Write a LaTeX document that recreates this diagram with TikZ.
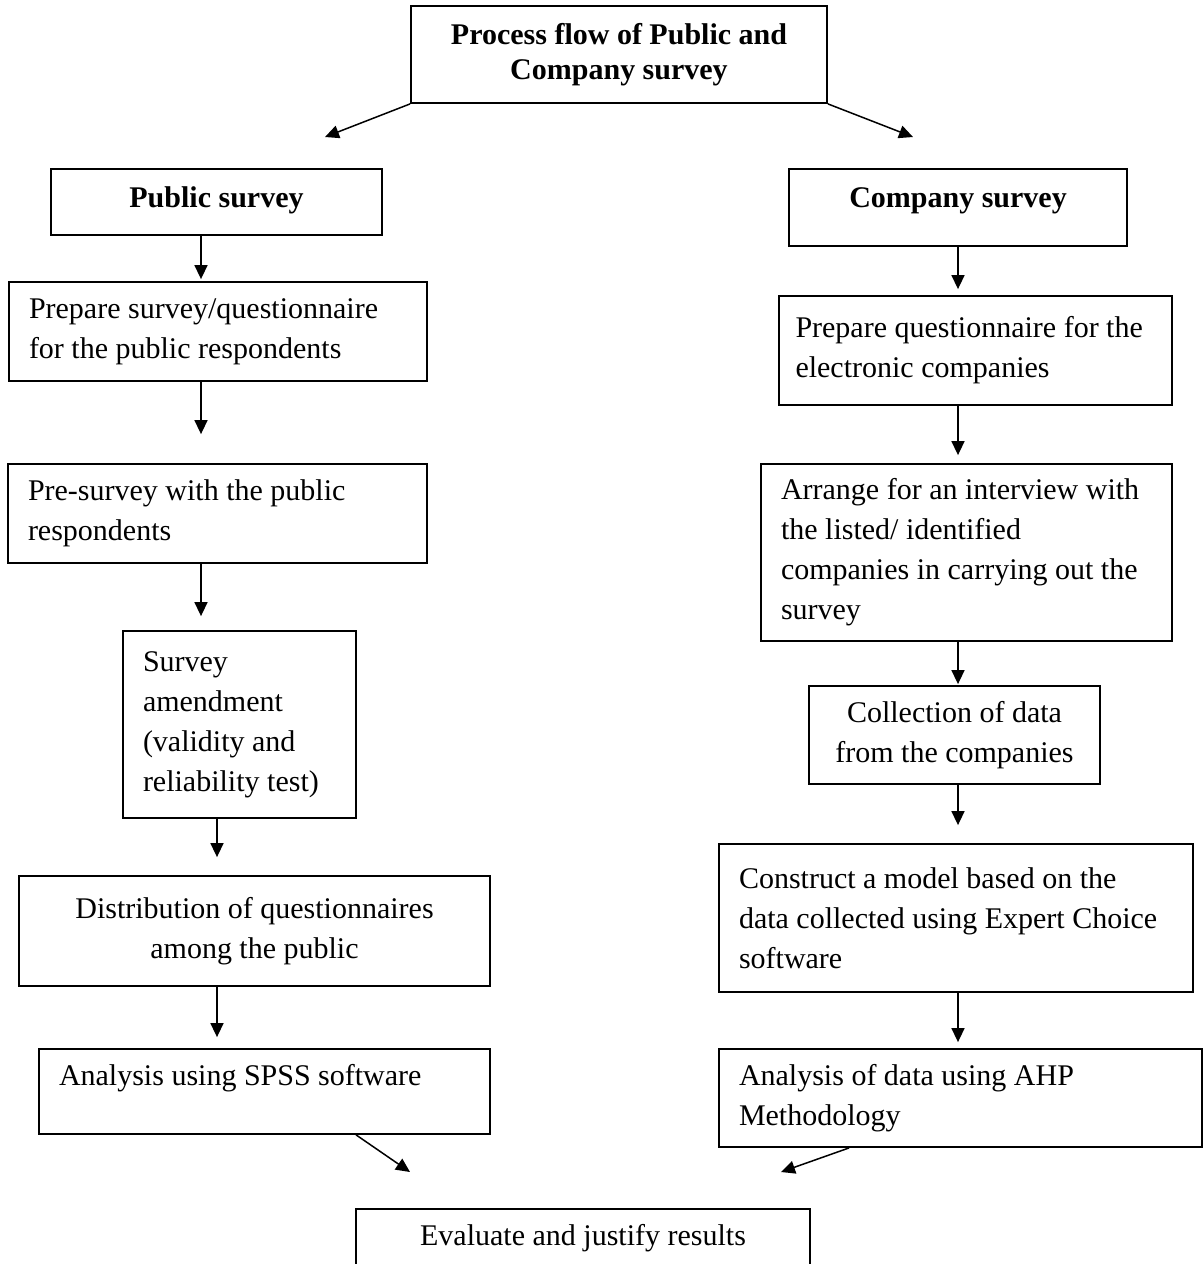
\documentclass[tikz,border=0pt]{standalone}
\usepackage{fontspec}
\setmainfont{Liberation Serif}
\usetikzlibrary{arrows.meta}
\tikzset{
  box/.style={draw, line width=0.9pt, inner xsep=10pt, inner ysep=0pt, font=\fontsize{15}{20}\selectfont},
  headbox/.style={box, font=\bfseries\fontsize{15}{20}\selectfont, text height=10pt},
  lbox/.style={box, align=flush left},
  cbox/.style={box, align=center},
  arr/.style={-{Triangle[length=7pt,width=6.5pt]}, line width=0.75pt}
}
\begin{document}
\begin{tikzpicture}[x=0.5pt, y=-0.5pt]
    \path[use as bounding box, clip] (0,0) rectangle (1204,1264);

    % Top box
    \node[cbox, font=\bfseries\fontsize{15}{17.5}\selectfont, minimum width=208pt, minimum height=48.5pt] (flow) at (619,54.5) {Process flow of Public and\\Company survey};

    % Public survey side
    \node[headbox, minimum width=165.5pt, minimum height=33pt, text depth=5pt] (pub) at (216.5,202) {Public survey};
    \node[lbox, text width=189pt, minimum height=49.5pt] (prep) at (218,331.5) {Prepare survey/questionnaire\\for the public respondents};
    \node[lbox, text width=189.5pt, minimum height=49.5pt] (pre) at (217.5,513.5) {Pre-survey with the public\\respondents};
    \node[lbox, text width=96.5pt, minimum height=93.5pt] (amend) at (239.5,724.5) {Survey\\amendment\\(validity and\\reliability test)};
    \node[cbox, minimum width=235.5pt, minimum height=55pt] (distr) at (254.5,931) {Distribution of questionnaires\\among the public};
    \node[lbox, text width=205.5pt, minimum height=42.5pt, text height=10pt, text depth=16.5pt] (spss) at (264.5,1091.5) {Analysis using SPSS software};

    % Company survey side
    \node[headbox, minimum width=169pt, minimum height=38.5pt, text depth=10.5pt] (comp) at (958,207.5) {Company survey};
    \node[lbox, text width=180pt, inner xsep=8.25pt, minimum height=54.5pt] (prepc) at (975.5,350.5) {Prepare questionnaire for the\\electronic companies};
    \node[lbox, text width=185.5pt, minimum height=88.5pt] (arrange) at (966.5,552.5) {Arrange for an interview with\\the listed/ identified\\companies in carrying out the\\survey};
    \node[cbox, minimum width=145.5pt, minimum height=49pt] (collect) at (954.5,735) {Collection of data\\from the companies};
    \node[lbox, text width=217pt, minimum height=74pt] (model) at (956,918) {Construct a model based on the\\data collected using Expert Choice\\software};
    \node[lbox, text width=221.5pt, minimum height=49pt] (ahp) at (960.5,1098) {Analysis of data using AHP\\Methodology};

    % Result
    \node[cbox, minimum width=227pt, minimum height=40.5pt, text height=10pt, text depth=14.5pt] (eval) at (583,1249.5) {Evaluate and justify results};

    % Arrow columns and free ends
    \coordinate (xl) at (201,0);
    \coordinate (xm) at (217,0);
    \coordinate (xr) at (958,0);
    \coordinate (pubtip) at (325,137);
    \coordinate (comptip) at (913,137);
    \coordinate (spsstip) at (410,1172);
    \coordinate (ahptip) at (781,1172);

    % Draw arrows
    \draw[arr] (flow.south west) -- (pubtip);
    \draw[arr] (flow.south east) -- (comptip);

    \draw[arr, shorten >=1pt] (pub.south -| xl) -- (prep.north -| xl);
    \draw[arr, shorten >=14.5pt] (prep.south -| xl) -- (pre.north -| xl);
    \draw[arr, shorten >=7pt] (pre.south -| xl) -- (amend.north -| xl);
    \draw[arr, shorten >=9pt] (amend.south -| xm) -- (distr.north -| xm);
    \draw[arr, shorten >=5.5pt] (distr.south -| xm) -- (spss.north -| xm);

    \draw[arr, shorten >=3pt] (comp.south -| xr) -- (prepc.north -| xr);
    \draw[arr, shorten >=4pt] (prepc.south -| xr) -- (arrange.north -| xr);
    \draw[arr, shorten >=0.5pt] (arrange.south -| xr) -- (collect.north -| xr);
    \draw[arr, shorten >=9pt] (collect.south -| xr) -- (model.north -| xr);
    \draw[arr, shorten >=3pt] (model.south -| xr) -- (ahp.north -| xr);

    \draw[arr] ([xshift=159pt]spss.south west) -- (spsstip);
    \draw[arr] ([xshift=65.5pt]ahp.south west) -- (ahptip);
\end{tikzpicture}
\end{document}
